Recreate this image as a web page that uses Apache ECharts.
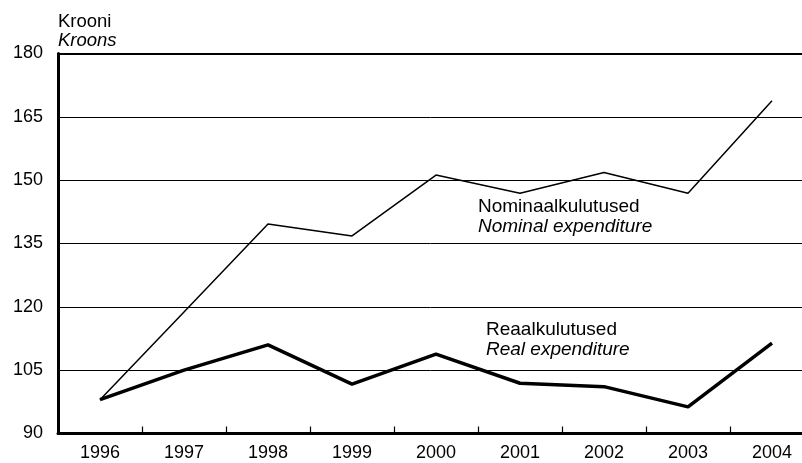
<!DOCTYPE html>
<html><head><meta charset="utf-8">
<script src="https://cdn.jsdelivr.net/npm/echarts@6/dist/echarts.min.js"></script>
<style>html,body{margin:0;padding:0;background:#fff}#c{width:802px;height:463px}</style>
</head><body><div id="c"></div>
<script>
const years = ['1996','1997','1998','1999','2000','2001','2002','2003','2004'];
const nominal = [98.0, 118.8, 139.6, 136.8, 151.2, 146.9, 151.8, 146.9, 168.8];
const real = [98.0, 105.0, 111.0, 101.7, 108.8, 101.9, 101.1, 96.3, 111.4];
const yMin = 90, yMax = 180, yStep = 15;

const chart = echarts.init(document.getElementById('c'), null, {renderer:'canvas'});
const font = 'Liberation Sans, Arial, sans-serif';
chart.setOption({
  animation:false,
  backgroundColor:'#fff',
  grid:{left:58, width:756, top:53.5, bottom:29.5, containLabel:false, outerBoundsMode:'none'},
  xAxis:{type:'category', data:years, boundaryGap:true,
    axisLine:{show:true, lineStyle:{color:'#000', width:3}},
    axisTick:{show:true, inside:true, length:7, lineStyle:{color:'#000', width:1.2}},
    axisLabel:{color:'#000', fontSize:18, fontFamily:font, margin:11},
    splitLine:{show:false}},
  yAxis:{type:'value', min:yMin, max:yMax, interval:yStep,
    axisLine:{show:true, lineStyle:{color:'#000', width:3}},
    axisTick:{show:false},
    axisLabel:{color:'#000', fontSize:18, fontFamily:font, margin:15},
    splitLine:{show:true, lineStyle:{color:'#000', width:1}}},
  series:[
    {type:'line', data:nominal, symbol:'none', lineStyle:{color:'#000', width:1.5}, z:3,
     markLine:{silent:true, symbol:'none', label:{show:false}, lineStyle:{color:'#000', width:2, type:'solid'}, data:[{yAxis:yMax}]}},
    {type:'line', data:real, symbol:'none', lineStyle:{color:'#000', width:3.5}, z:4}
  ],
  graphic:[
    {type:'text', left:58, top:12, style:{text:'Krooni', font:'18.5px '+font, fill:'#000'}},
    {type:'text', left:58, top:31, style:{text:'Kroons', font:'italic 18.5px '+font, fill:'#000'}},
    {type:'text', left:478, top:197, style:{text:'Nominaalkulutused', font:'19px '+font, fill:'#000'}},
    {type:'text', left:478, top:217, style:{text:'Nominal expenditure', font:'italic 19px '+font, fill:'#000'}},
    {type:'text', left:486, top:320, style:{text:'Reaalkulutused', font:'19px '+font, fill:'#000'}},
    {type:'text', left:486, top:340, style:{text:'Real expenditure', font:'italic 19px '+font, fill:'#000'}}
  ]
});
</script></body></html>
